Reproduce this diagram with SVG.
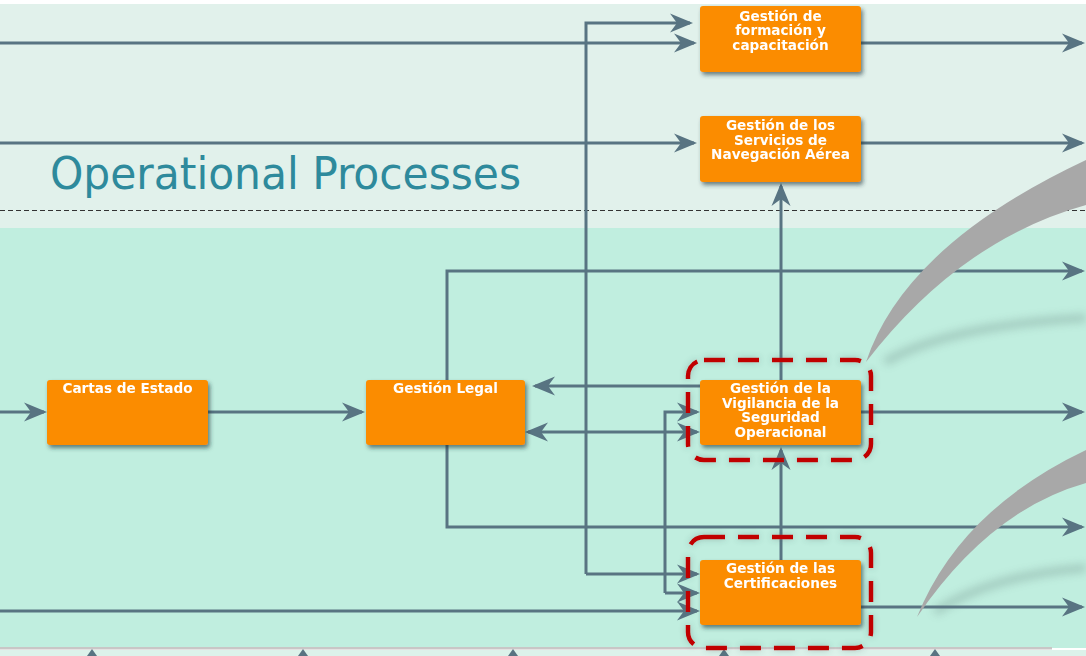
<svg xmlns="http://www.w3.org/2000/svg" width="1086" height="656" viewBox="0 0 1086 656">
<defs>
<style>
.node rect{fill:#fb8c00;}
.node text{fill:#ffffff;font-family:"DejaVu Sans",Verdana,sans-serif;font-weight:bold;font-size:13.6px;text-anchor:middle;}
.conn path{fill:none;stroke:#587482;stroke-width:3;}
.arr{marker-end:url(#ah);}
.sel{fill:none;stroke:#c00000;stroke-width:4.5;stroke-dasharray:21 13;}
.swoosh{fill:#a8a8a8;}
</style>
<marker id="ah" viewBox="0 0 26 22" refX="21" refY="11" markerWidth="26" markerHeight="22" markerUnits="userSpaceOnUse" orient="auto-start-reverse">
<path d="M1,1.5 L24,11 L1,20.5 L8,11 Z" fill="#587482"/>
</marker>
<filter id="sh" x="-20%" y="-20%" width="140%" height="160%">
<feDropShadow dx="2" dy="3" stdDeviation="2" flood-color="#203038" flood-opacity="0.6"/>
</filter>
<filter id="sh2" x="-20%" y="-20%" width="140%" height="140%">
<feDropShadow dx="0" dy="0" stdDeviation="3" flood-color="#406060" flood-opacity="0.35"/>
</filter>
<filter id="blur" x="-20%" y="-50%" width="140%" height="200%">
<feGaussianBlur stdDeviation="4"/>
</filter>
</defs>

<g id="background">
<rect x="0" y="0" width="1086" height="656" fill="#ffffff"/>
<rect x="0" y="4" width="1086" height="224" fill="#e1f1eb"/>
<rect x="0" y="228" width="1086" height="420" fill="#c0eedf"/>
<rect x="0" y="650" width="1086" height="6" fill="#dcf2ea"/>
<rect x="0" y="647" width="1052" height="2.5" fill="#c9c6c6"/>
<line x1="0" y1="210.5" x2="1086" y2="210.5" stroke="#333333" stroke-width="1.2" stroke-dasharray="5 3"/>
<text x="50" y="189" font-family="'DejaVu Sans Condensed','DejaVu Sans',sans-serif" font-size="44" fill="#2e8a9c" textLength="471" lengthAdjust="spacingAndGlyphs">Operational Processes</text>
</g>

<g id="shadows" opacity="0.35">
<path d="M885,362 Q950,325 1086,318" fill="none" stroke="#6a8a84" stroke-width="8" filter="url(#blur)"/>
<path d="M935,612 Q990,575 1086,568" fill="none" stroke="#6a8a84" stroke-width="8" filter="url(#blur)"/>
</g>

<g class="conn" id="connectors">
<path class="arr" d="M0,43 H694"/>
<path class="arr" d="M586,574 V23 H690"/>
<path class="arr" d="M586,574 H697"/>
<path class="arr" d="M0,143 H694"/>
<path class="arr" d="M861,43 H1082"/>
<path class="arr" d="M861,143 H1082"/>
<path class="arr" d="M861,412 H1082"/>
<path class="arr" d="M861,607 H1082"/>
<path class="arr" d="M447,380 V271 H1082"/>
<path class="arr" d="M447,445 V527 H1082"/>
<path class="arr" d="M781,380 V186"/>
<path class="arr" d="M781,560 V450"/>
<path class="arr" d="M700,386 H535"/>
<path class="arr" d="M528,432 H697" marker-start="url(#ah)"/>
<path class="arr" d="M665,593 V412 H697"/>
<path class="arr" d="M665,593 H697"/>
<path class="arr" d="M0,611 H697"/>
<path class="arr" d="M0,412 H44"/>
<path class="arr" d="M208,412 H362"/>
</g>

<g id="bottom-marks" fill="#587482">
<path d="M87,656 L92,649 L97,656 Z"/>
<path d="M298,656 L303,649 L308,656 Z"/>
<path d="M508,656 L513,649 L518,656 Z"/>
<path d="M719,656 L724,649 L729,656 Z"/>
<path d="M930,656 L935,649 L940,656 Z"/>
</g>

<g id="node-formacion" class="node">
<rect x="700" y="6" width="161" height="66" rx="3" filter="url(#sh)"/>
<text x="780.5" y="20.5">Gestión de</text>
<text x="780.5" y="35">formación y</text>
<text x="780.5" y="49.5">capacitación</text>
</g>

<g id="node-servicios" class="node">
<rect x="700" y="116" width="161" height="66" rx="3" filter="url(#sh)"/>
<text x="780.5" y="130">Gestión de los</text>
<text x="780.5" y="144.5">Servicios de</text>
<text x="780.5" y="159">Navegación Aérea</text>
</g>

<g id="node-cartas" class="node">
<rect x="47" y="380" width="161" height="65" rx="3" filter="url(#sh)"/>
<text x="127.5" y="393">Cartas de Estado</text>
</g>

<g id="node-legal" class="node">
<rect x="366" y="380" width="159" height="65" rx="3" filter="url(#sh)"/>
<text x="445.5" y="393">Gestión Legal</text>
</g>

<g id="node-vigilancia" class="node">
<rect x="700" y="380" width="161" height="65" rx="3" filter="url(#sh)"/>
<text x="780.5" y="393">Gestión de la</text>
<text x="780.5" y="407.5">Vigilancia de la</text>
<text x="780.5" y="422">Seguridad</text>
<text x="780.5" y="436.5">Operacional</text>
</g>

<g id="node-certificaciones" class="node">
<rect x="700" y="560" width="161" height="65" rx="3" filter="url(#sh)"/>
<text x="780.5" y="573">Gestión de las</text>
<text x="780.5" y="588">Certificaciones</text>
</g>

<g id="highlights">
<rect class="sel" x="688" y="360" width="183" height="100" rx="16" filter="url(#sh2)"/>
<rect class="sel" x="688" y="537" width="183" height="111" rx="16" filter="url(#sh2)"/>
</g>

<g id="callouts">
<path class="swoosh" d="M866,362 Q905,245 1086,160 L1086,205 Q960,240 866,362 Z"/>
<path class="swoosh" d="M917,617 Q960,510 1086,450 L1086,483 Q990,510 917,617 Z"/>
</g>
</svg>
